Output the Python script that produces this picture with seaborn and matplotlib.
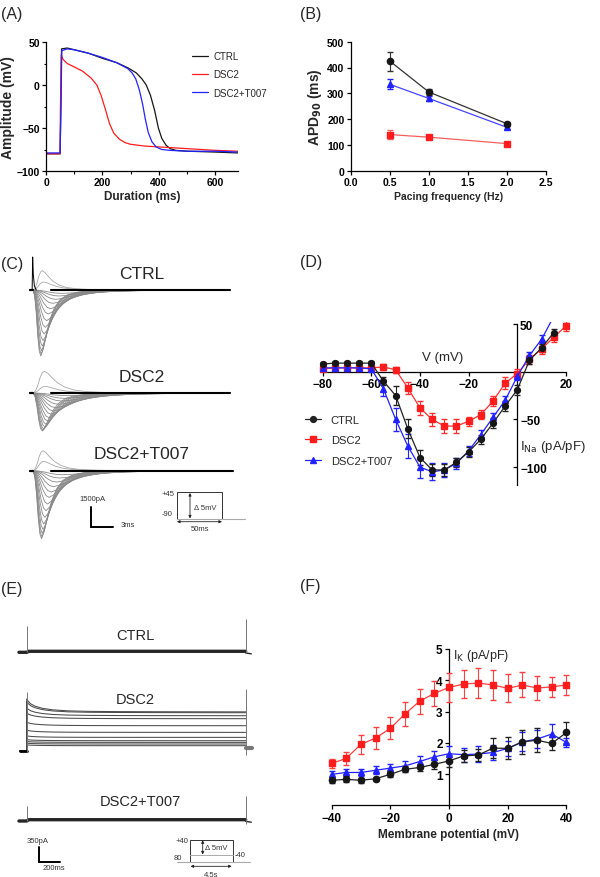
import numpy as np
import pandas as pd
import seaborn as sns
import matplotlib.pyplot as plt
from matplotlib.lines import Line2D
from matplotlib.patches import Rectangle
from matplotlib.ticker import MultipleLocator

sns.set_style('ticks')
plt.rcParams['font.family'] = ['Liberation Sans', 'DejaVu Sans']
plt.rcParams['axes.linewidth'] = 0.9
for a in ('xtick', 'ytick'):
    plt.rcParams[a + '.major.width'] = 0.9
    plt.rcParams[a + '.minor.width'] = 0.8
    plt.rcParams[a + '.major.size'] = 3
    plt.rcParams[a + '.minor.size'] = 1.8
    plt.rcParams[a + '.major.pad'] = 1.5
    plt.rcParams[a + '.color'] = 'black'
    plt.rcParams[a + '.labelcolor'] = 'black'
plt.rcParams['axes.edgecolor'] = 'black'

BLACK = '#161616'
RED = '#ff1c1c'
BLUE = '#2222ff'

# ---------------- data ----------------
# (A) action potentials, time (ms) / voltage (mV)
ap_ctrl_t = [0, 50, 52, 55, 75, 100, 150, 200, 250, 290, 320, 340, 355, 370, 385, 398, 410, 425, 440, 460, 500, 600, 680]
ap_ctrl_v = [-80, -80, -40, 42, 43, 41, 37, 31, 26, 20, 14, 7, 0, -12, -30, -50, -62, -70, -74, -76, -77, -78, -79]
ap_dsc2_t = [0, 50, 51, 54, 60, 75, 100, 130, 160, 180, 195, 210, 225, 240, 260, 280, 300, 350, 400, 450, 500, 600, 680]
ap_dsc2_v = [-80, -80, -30, 35, 30, 25, 21, 16, 8, 0, -12, -28, -45, -56, -63, -67, -69, -71, -72, -73, -74, -76, -77]
ap_t007_t = [0, 50, 52, 56, 75, 100, 150, 200, 250, 290, 305, 318, 330, 342, 352, 362, 375, 390, 410, 440, 500, 600, 680]
ap_t007_v = [-79, -79, -40, 40, 42, 41, 37, 32, 26, 19, 14, 7, -5, -22, -40, -55, -66, -72, -75, -76, -77, -77, -78]

# (B) APD90 vs pacing frequency
freq = [0.5, 1.0, 2.0]
apd_ctrl = [425, 305, 182]
apd_ctrl_err = [37, 13, 8]
apd_dsc2 = [140, 130, 105]
apd_dsc2_err = [16, 9, 6]
apd_t007 = [335, 280, 168]
apd_t007_err = [20, 10, 6]

# (C) INa sweep families: normalised waveform + per-sweep peak (pA) and time stretch
na_t = [0, 0.2, 0.4, 0.6, 0.8, 1.0, 1.3, 1.7, 2.2, 2.8, 3.6, 4.6, 6.0, 8.0, 11.0]
na_shape = [0, 0.1, 0.35, 0.7, 0.93, 1.0, 0.9, 0.68, 0.45, 0.27, 0.14, 0.07, 0.03, 0.01, 0]
na_ctrl_peak = [-4950, -4800, -4550, -4200, -3800, -3300, -2800, -2300, -1800, -1400, -1000, -700, -450, -250, 600, 1450]
na_ctrl_stretch = [1.0, 1.05, 1.1, 1.2, 1.3, 1.45, 1.6, 1.8, 2.0, 2.3, 2.6, 3.0, 3.4, 3.8, 1.4, 1.2]
na_dsc2_peak = [-2850, -2800, -2700, -2550, -2350, -2100, -1850, -1600, -1350, -1100, -850, -600, -400, -200, 500, 1630]
na_dsc2_stretch = [1.2, 1.3, 1.4, 1.55, 1.7, 1.9, 2.1, 2.4, 2.7, 3.0, 3.4, 3.8, 4.2, 4.6, 1.6, 1.5]
na_t007_peak = [-5100, -4950, -4700, -4400, -4000, -3500, -3000, -2500, -2000, -1600, -1200, -850, -550, -300, 700, 1500]
na_t007_stretch = [1.1, 1.15, 1.2, 1.3, 1.4, 1.55, 1.7, 1.9, 2.1, 2.4, 2.7, 3.1, 3.5, 3.9, 1.4, 1.3]
na_spike_t = [0.55, 0.62, 0.7, 0.85, 1.1]
na_spike_ctrl = [0, 2475, 1200, 300, 0]

# (D) INa I-V
na_v = [-80, -75, -70, -65, -60, -55, -50, -45, -40, -35, -30, -25, -20, -15, -10, -5, 0, 5, 10, 15]
na_v_dsc2 = na_v + [20]
iv_na_ctrl = [8, 9, 9, 9, 9, -10, -25, -60, -90, -103, -103, -95, -84, -71, -54, -36, -19, 12, 25, 41]
iv_na_ctrl_err = [2, 2, 2, 2, 2, 4, 10, 10, 8, 6, 6, 5, 5, 5, 5, 5, 5, 4, 4, 4]
iv_na_dsc2 = [3, 4, 4, 4, 4, 5, 2, -17, -38, -50, -57, -57, -52, -45, -31, -12, -2, 13, 24, 36, 48]
iv_na_dsc2_err = [2, 2, 2, 2, 2, 3, 3, 6, 7, 7, 7, 7, 5, 5, 5, 6, 5, 5, 5, 5, 5]
iv_na_t007 = [4, 4, 4, 4, 3, -18, -50, -78, -100, -105, -103, -96, -83, -66, -48, -30, -5, 17, 34, 58]
iv_na_t007_err = [2, 2, 2, 2, 2, 8, 12, 13, 11, 9, 7, 6, 5, 5, 5, 5, 4, 4, 4, 4]

# (E) IK sweeps: decay template + steady / initial level of each DSC2 sweep (pA)
ik_t = [0, 15, 40, 80, 150, 250, 400, 600, 900, 1300, 1700, 2116]
ik_decay = [1, 0.82, 0.62, 0.45, 0.28, 0.16, 0.08, 0.04, 0.02, 0.01, 0.005, 0]
ik_dsc2_steady = [805, 785, 714, 643, 476, 317, 198, 119, 79, 40, 0]
ik_dsc2_start = [1110, 1050, 900, 780, 560, 370, 235, 145, 100, 60, 20]
ik_hold = -119
# capacitive transients (t, low, high)
ik_cap_ctrl = [(0, -24, 609), (2116, -40, 762)]
ik_cap_dsc2 = [(0, -150, 1278), (2116, -221, 1350)]
ik_cap_t007 = [(0, -31, 333), (2116, -102, 564)]

# (F) IK I-V
k_v = [-40, -35, -30, -25, -20, -15, -10, -5, 0, 5, 10, 15, 20, 25, 30, 35, 40]
iv_k_dsc2 = [1.34, 1.50, 1.95, 2.15, 2.46, 2.92, 3.33, 3.58, 3.77, 3.88, 3.91, 3.85, 3.74, 3.85, 3.75, 3.79, 3.85]
iv_k_dsc2_err = [0.15, 0.2, 0.3, 0.35, 0.35, 0.38, 0.4, 0.4, 0.45, 0.45, 0.48, 0.48, 0.45, 0.4, 0.38, 0.32, 0.33]
iv_k_t007 = [0.99, 1.05, 1.05, 1.12, 1.19, 1.26, 1.40, 1.55, 1.65, 1.62, 1.64, 1.69, 1.82, 2.03, 2.12, 2.28, 2.01]
iv_k_t007_err = [0.1, 0.12, 0.12, 0.13, 0.14, 0.15, 0.18, 0.2, 0.25, 0.22, 0.25, 0.25, 0.25, 0.3, 0.3, 0.33, 0.15]
iv_k_ctrl = [0.80, 0.83, 0.80, 0.85, 0.99, 1.15, 1.21, 1.31, 1.42, 1.58, 1.61, 1.83, 1.82, 2.03, 2.08, 1.98, 2.33]
iv_k_ctrl_err = [0.08, 0.1, 0.08, 0.06, 0.08, 0.1, 0.12, 0.14, 0.18, 0.2, 0.2, 0.32, 0.35, 0.38, 0.38, 0.22, 0.35]

W, H = 600, 878
fig = plt.figure(figsize=(6, 8.78), dpi=100)


def box(x0, y0, x1, y1):
    # pixel box (origin top left) -> figure fraction
    return [x0 / W, 1 - y1 / H, (x1 - x0) / W, (y1 - y0) / H]


def bold_ticks(ax, size):
    for lab in ax.get_xticklabels() + ax.get_yticklabels():
        lab.set_fontweight('bold')
        lab.set_fontsize(size)


def trace_ax(x0, x1, base, up, down, t0_px, px_per_t, pa_per_px):
    ax = fig.add_axes(box(x0, base - up, x1, base + down))
    ax.set_xlim((x0 - t0_px) / px_per_t, (x1 - t0_px) / px_per_t)
    ax.set_ylim(-down * pa_per_px, up * pa_per_px)
    ax.axis('off')
    return ax


# ---------------- (A) ----------------
axA = fig.add_axes(box(46, 43, 238, 172))
df_ap = pd.concat([
    pd.DataFrame({'t': ap_ctrl_t, 'mV': ap_ctrl_v, 'grp': 'CTRL'}),
    pd.DataFrame({'t': ap_dsc2_t, 'mV': ap_dsc2_v, 'grp': 'DSC2'}),
    pd.DataFrame({'t': ap_t007_t, 'mV': ap_t007_v, 'grp': 'DSC2+T007'}),
])
sns.lineplot(data=df_ap, x='t', y='mV', hue='grp', estimator=None, sort=False,
             palette={'CTRL': BLACK, 'DSC2': RED, 'DSC2+T007': BLUE}, lw=0.9, ax=axA)
axA.set_xlim(0, 680)
axA.set_ylim(-100, 50)
axA.xaxis.set_major_locator(MultipleLocator(200))
axA.xaxis.set_minor_locator(MultipleLocator(100))
axA.yaxis.set_major_locator(MultipleLocator(50))
axA.yaxis.set_minor_locator(MultipleLocator(25))
axA.set_xlabel('Duration (ms)', fontsize=8.5, fontweight='bold', labelpad=2)
axA.set_ylabel('Amplitude (mV)', fontsize=10, fontweight='bold', labelpad=1)
bold_ticks(axA, 7.5)
sns.despine(ax=axA)
axA.legend(frameon=False, fontsize=7, loc='upper left', bbox_to_anchor=(0.74, 0.96),
           handlelength=1.6, handletextpad=0.6, labelspacing=0.85, borderaxespad=0)

# ---------------- (B) ----------------
axB = fig.add_axes(box(350.7, 42.7, 546, 171.7))
axB.errorbar(freq, apd_dsc2, yerr=apd_dsc2_err, color='#f26060', ecolor='#f26060', marker='s',
             mfc=RED, mec=RED, ms=4.5, lw=0.9, elinewidth=0.8, capsize=2, clip_on=False, zorder=3)
axB.errorbar(freq, apd_t007, yerr=apd_t007_err, color='#4444ff', ecolor=BLUE, marker='^',
             mfc=BLUE, mec=BLUE, ms=4.5, lw=0.9, elinewidth=0.8, capsize=2, clip_on=False, zorder=3)
axB.errorbar(freq, apd_ctrl, yerr=apd_ctrl_err, color='#333333', ecolor='#333333', marker='o',
             mfc=BLACK, mec=BLACK, ms=4.5, lw=0.9, elinewidth=0.8, capsize=2, clip_on=False, zorder=3)
axB.set_xlim(0, 2.5)
axB.set_ylim(0, 500)
axB.xaxis.set_major_locator(MultipleLocator(0.5))
axB.yaxis.set_major_locator(MultipleLocator(100))
axB.set_xticklabels([f'{v:.1f}' for v in axB.get_xticks()])
axB.set_xlabel('Pacing frequency (Hz)', fontsize=7.5, fontweight='bold', labelpad=3)
axB.set_ylabel('APD$_{\\mathbf{90}}$ (ms)', fontsize=10, fontweight='bold', labelpad=2)
bold_ticks(axB, 7.5)
sns.despine(ax=axB)

# ---------------- (C) ----------------
def na_family(peaks, stretch, onset, end):
    rows = []
    for k, (p, s) in enumerate(zip(peaks, stretch)):
        ts = [0.2, onset]
        ys = [0, 0]
        for tt, f in zip(na_t[1:], na_shape[1:]):
            if onset + s * tt < end:
                ts.append(onset + s * tt)
                ys.append(p * f)
        ts.append(end)
        ys.append(0)
        rows.append(pd.DataFrame({'t': ts, 'I': ys, 'sweep': k, 'out': p > 0}))
    return pd.concat(rows)


C_PX_T = 7.53
C_PA = 75.0
families_c = [
    (291.0, na_ctrl_peak, na_ctrl_stretch, 26.8, 'CTRL', 275),
    (394.0, na_dsc2_peak, na_dsc2_stretch, 26.8, 'DSC2', 378),
    (471.7, na_t007_peak, na_t007_stretch, 27.2, 'DSC2+T007', 455),
]
c_axes = []
for base, peaks, stretch, end, name, ty in families_c:
    ax = trace_ax(22, 245, base, 40, 72, 28, C_PX_T, C_PA)
    df_c = na_family(peaks, stretch, 0.7, end)
    sns.lineplot(data=df_c[~df_c['out']], x='t', y='I', units='sweep', estimator=None,
                 sort=False, color='#8a8a8a', lw=0.6, ax=ax, legend=False)
    sns.lineplot(data=df_c[df_c['out']], x='t', y='I', units='sweep', estimator=None,
                 sort=False, color='#a8a8a8', lw=0.6, ax=ax, legend=False)
    ax.plot([0.2, 0.7], [0, 0], color='black', lw=1.6)
    ax.plot([3.0, end], [0, 0], color='black', lw=1.5)
    ax.set_xlabel('')
    ax.set_ylabel('')
    ax.axis('off')
    fig.text(142 / W, 1 - ty / H, name, fontsize=12.5, ha='center', va='center')
    c_axes.append(ax)
c_axes[0].plot(na_spike_t, na_spike_ctrl, color='black', lw=0.7)
# scale bar 1500 pA / 3 ms
c_axes[2].plot([8.33, 8.33, 11.33], [-4245 + 1500, -4245, -4245], color='black', lw=1.4,
               solid_joinstyle='miter')

# ---------------- (D) ----------------
axD = fig.add_axes(box(317.8, 323.1, 570.8, 488.1))
for x, y, e, c, lc, m, lab in [
        (na_v_dsc2, iv_na_dsc2, iv_na_dsc2_err, RED, '#ff3030', 's', 'DSC2'),
        (na_v, iv_na_t007, iv_na_t007_err, BLUE, BLUE, '^', 'DSC2+T007'),
        (na_v, iv_na_ctrl, iv_na_ctrl_err, BLACK, '#222222', 'o', 'CTRL')]:
    axD.errorbar(x, y, yerr=e, color=lc, ecolor=lc, marker=m, mfc=c, mec=c, ms=4.2, lw=0.9,
                 elinewidth=0.8, capsize=2, zorder=3)
axD.set_xlim(-82, 22)
axD.set_ylim(-121, 52)
for s in ('top',):
    axD.spines[s].set_visible(False)
axD.spines['left'].set_position(('data', 0))
axD.spines['bottom'].set_position(('data', 0))
axD.spines['right'].set_position(('data', 0))
axD.spines['right'].set_visible(False)
axD.spines['left'].set_bounds(-119, 50)
axD.spines['bottom'].set_bounds(-80, 20)
axD.set_xticks([-80, -60, -40, -20, 20])
axD.set_yticks([50, -50, -100])
axD.tick_params(axis='y', left=True, right=False, labelleft=False, labelright=True, pad=-1)
bold_ticks(axD, 8.5)
for lab in axD.get_yticklabels(which='both'):
    lab.set_fontweight('bold')
axD.yaxis.set_tick_params(labelsize=8.5)
for lab in axD.yaxis.get_majorticklabels():
    lab.set_fontweight('bold')
axD.text(-30.5, 15, 'V (mV)', fontsize=9.5, ha='center', va='center')
axD.text(1.2, -78, 'I$_{\\mathrm{Na}}$ (pA/pF)', fontsize=9.5, ha='left', va='center')
hD = [Line2D([], [], color='#222222', marker='o', ms=4.2, lw=0.9),
      Line2D([], [], color=RED, marker='s', ms=4.2, lw=0.9),
      Line2D([], [], color=BLUE, marker='^', ms=4.2, lw=0.9)]
axD.legend(hD, ['CTRL', 'DSC2', 'DSC2+T007'], frameon=False, fontsize=8, loc='upper left',
           bbox_to_anchor=(-0.05, 0.44), handlelength=1.4, handletextpad=0.9,
           labelspacing=0.95, borderaxespad=0, borderpad=0)

# ---------------- (E) ----------------
E_PX_T = 0.1035
E_PA = 23.8
axE1 = trace_ax(15, 258, 652.3, 45, 15, 26.7, E_PX_T, E_PA)
axE2 = trace_ax(15, 258, 746.7, 65, 15, 26.7, E_PX_T, E_PA)
axE3 = trace_ax(15, 258, 820.7, 45, 50, 26.7, E_PX_T, E_PA)

rows = []
for k, (ss, st) in enumerate(zip(ik_dsc2_steady, ik_dsc2_start)):
    ys = [ik_hold, ik_hold] + [ss + (st - ss) * d for d in ik_decay]
    rows.append(pd.DataFrame({'t': [-65, 0] + ik_t, 'I': ys, 'sweep': k}))
df_e = pd.concat(rows)
sns.lineplot(data=df_e, x='t', y='I', units='sweep', estimator=None, sort=False,
             color='#4a4a4a', lw=0.75, ax=axE2, legend=False)
axE2.plot([-65, 0], [ik_hold, ik_hold], color='black', lw=2)
axE2.plot([2116, 2175], [-60, -60], color='#777777', lw=3)
for ax, cap, lvl in [(axE1, ik_cap_ctrl, -24), (axE3, ik_cap_t007, -31)]:
    ax.plot([-75, 0, 20, 2116], [lvl, lvl, 0, 0], color='#262626', lw=2.4)
    ax.plot([2116, 2170], [-40, -60], color='#262626', lw=1)
for ax, cap in [(axE1, ik_cap_ctrl), (axE2, ik_cap_dsc2), (axE3, ik_cap_t007)]:
    ax.vlines([c[0] for c in cap], [c[1] for c in cap], [c[2] for c in cap],
              color='#777777', lw=0.7)
for ax in (axE1, axE2, axE3):
    ax.set_xlabel('')
    ax.set_ylabel('')
    ax.axis('off')
fig.text(135 / W, 1 - 636 / H, 'CTRL', fontsize=10.5, ha='center', va='center')
fig.text(135 / W, 1 - 700 / H, 'DSC2', fontsize=10.5, ha='center', va='center')
fig.text(140 / W, 1 - 801.7 / H, 'DSC2+T007', fontsize=10.5, ha='center', va='center')
# scale bar 350 pA / 200 ms
axE3.plot([122, 122, 322], [-1000 + 350, -1000, -1000], color='black', lw=1.4,
          solid_joinstyle='miter')

# ---------------- (F) ----------------
axF = fig.add_axes(box(327.1, 650, 570.9, 806.3))
for y, e, c, lc, m in [(iv_k_dsc2, iv_k_dsc2_err, RED, '#ff4040', 's'),
                       (iv_k_t007, iv_k_t007_err, BLUE, BLUE, '^'),
                       (iv_k_ctrl, iv_k_ctrl_err, BLACK, '#222222', 'o')]:
    axF.errorbar(k_v, y, yerr=e, color=lc, ecolor=lc, marker=m, mfc=c, mec=c, ms=4.5, lw=0.9,
                 elinewidth=0.8, capsize=2.2, zorder=3, clip_on=False)
axF.set_xlim(-41.5, 41.5)
axF.set_ylim(0, 5)
axF.spines['top'].set_visible(False)
axF.spines['right'].set_visible(False)
axF.spines['left'].set_position(('data', 0))
axF.spines['bottom'].set_bounds(-40, 40)
axF.set_xticks([-40, -20, 0, 20, 40])
axF.set_yticks([1, 2, 3, 4, 5])
axF.set_xlabel('Membrane potential (mV)', fontsize=8.5, fontweight='bold', labelpad=3)
bold_ticks(axF, 8.5)
axF.text(1.3, 4.82, 'I$_{\\mathrm{K}}$ (pA/pF)', fontsize=9, ha='left', va='center')

# ---------------- overlay: panel letters, scale labels, protocols ----------------
ov = fig.add_axes([0, 0, 1, 1])
ov.set_xlim(0, W)
ov.set_ylim(H, 0)
ov.axis('off')
ov.set_zorder(-1)
for lab, x, y in [('(A)', 1, 15), ('(B)', 300, 15), ('(C)', 1, 265),
                  ('(D)', 300, 263), ('(E)', 1, 590), ('(F)', 300, 587)]:
    ov.text(x, y, lab, fontsize=11.5, ha='left', va='center')

small = dict(fontsize=5.5, color='#333333', va='center')
ov.text(79.3, 500, '1500pA', ha='left', **small)
ov.text(120.7, 526, '3ms', ha='left', **small)
ov.text(27, 841.7, '350pA', ha='left', **small)
ov.text(42.7, 868.3, '200ms', ha='left', **small)

arrow = dict(arrowstyle='<|-|>', color='#222222', lw=0.6, mutation_scale=4, shrinkA=0, shrinkB=0)
# Na protocol
ov.plot([176.7, 245], [520, 520], color='#aaaaaa', lw=0.8)
ov.add_patch(Rectangle((176.7, 493.3), 45.6, 26.7, fill=False, ec='#333333', lw=0.7))
ov.annotate('', xy=(190, 494), xytext=(190, 519.5), arrowprops=arrow)
ov.annotate('', xy=(177, 522.7), xytext=(222, 522.7), arrowprops=arrow)
ov.text(175, 494.3, '+45', ha='right', **small)
ov.text(172.7, 515, '-90', ha='right', **small)
ov.text(194, 508.3, '\u0394 5mV', ha='left', **small)
ov.text(200, 530, '50ms', ha='center', **small)
# K protocol
ov.plot([176.7, 250], [863.3, 863.3], color='#aaaaaa', lw=0.8)
ov.plot([190, 233.3], [856, 856], color='#aaaaaa', lw=0.7)
ov.add_patch(Rectangle((190, 840.7), 43.3, 22.6, fill=False, ec='#333333', lw=0.7))
ov.annotate('', xy=(202.7, 841.2), xytext=(202.7, 855.5), arrowprops=arrow)
ov.annotate('', xy=(190.5, 867.3), xytext=(231.7, 867.3), arrowprops=arrow)
ov.text(188, 841.7, '+40', ha='right', **small)
ov.text(182, 859, '80', ha='right', **small)
ov.text(235, 856, '-40', ha='left', **small)
ov.text(205, 848.3, '\u0394 5mV', ha='left', **small)
ov.text(210.7, 874.3, '4,5s', ha='center', **small)

fig.savefig('out.png', dpi=100)
